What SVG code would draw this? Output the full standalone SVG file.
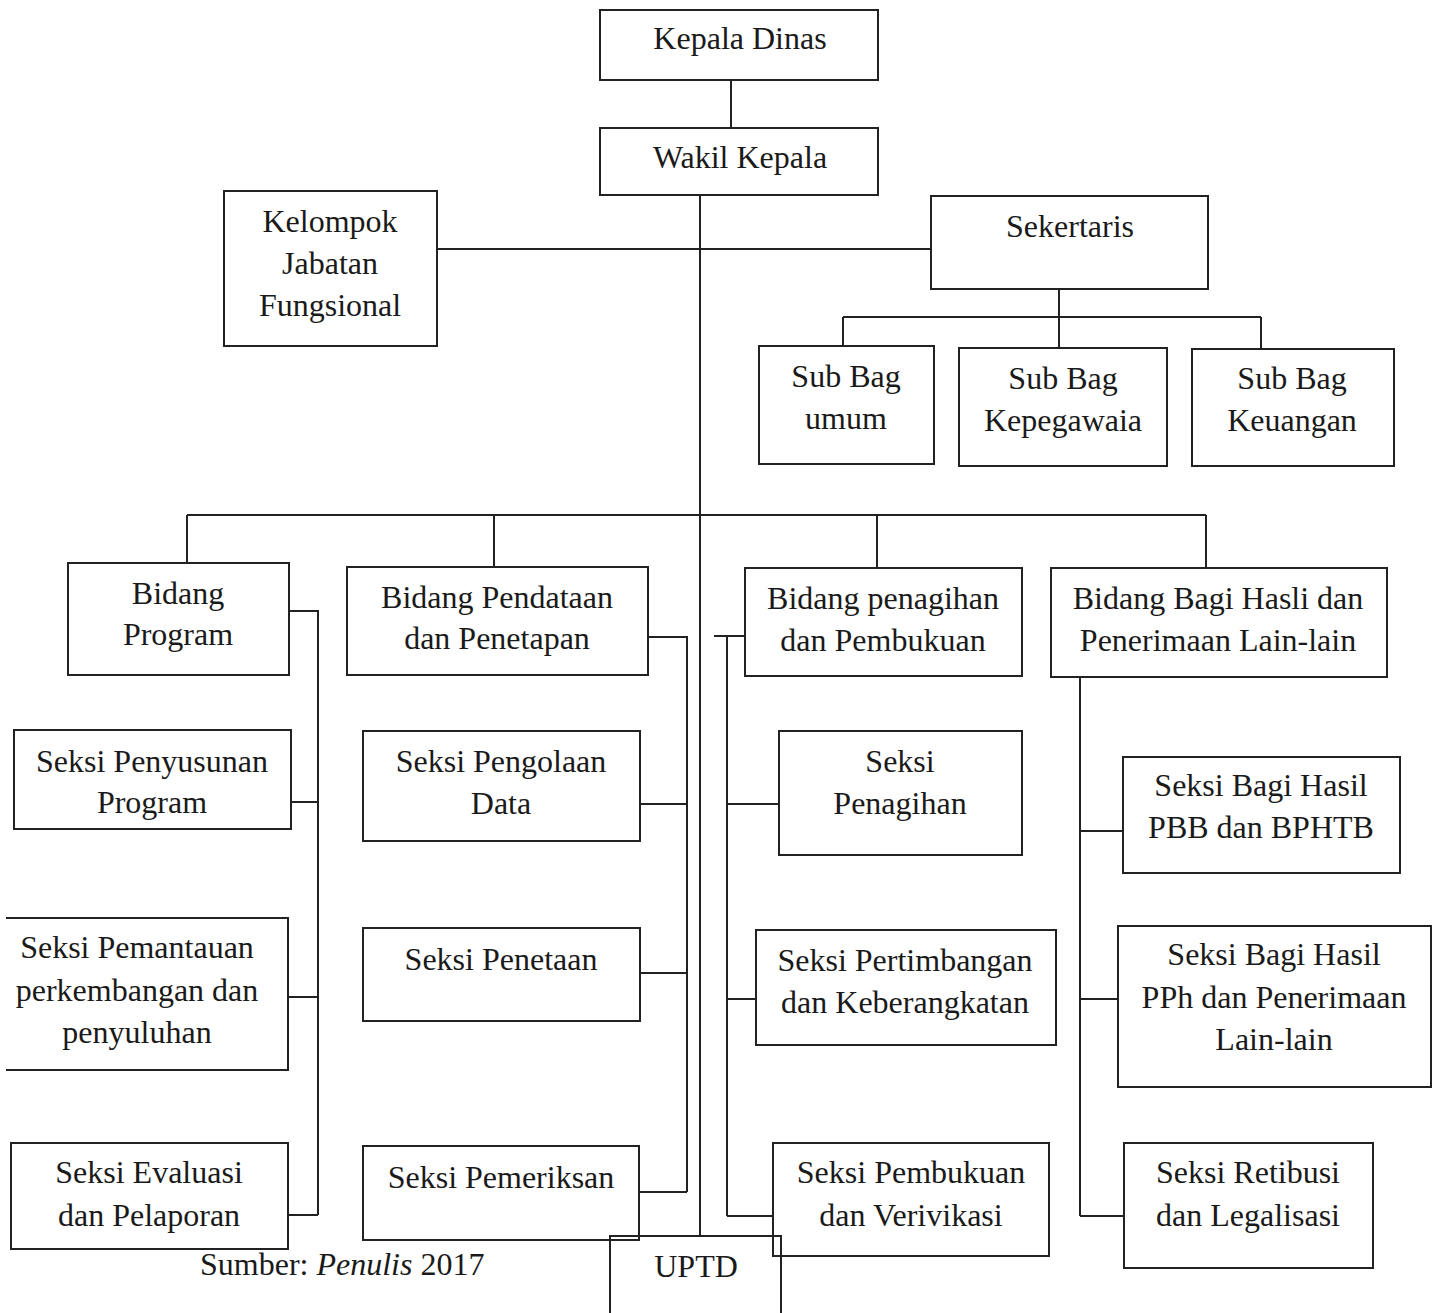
<svg xmlns="http://www.w3.org/2000/svg" width="1433" height="1313" viewBox="0 0 1433 1313">
<style>
.box{fill:none;stroke:#222;stroke-width:2}
.ln{fill:none;stroke:#222;stroke-width:2}
text{font-family:"Liberation Serif","Times New Roman",serif;font-size:32px;fill:#1a1a1a;text-anchor:middle}
</style>
<rect width="1433" height="1313" fill="#fff"/>
<g id="connectors">
<path class="ln" d="M731 80V128"/>
<path class="ln" d="M700 195V1236"/>
<path class="ln" d="M437 249H931"/>
<path class="ln" d="M1059 289V348M843 317H1261M843 317V346M1261 317V349"/>
<path class="ln" d="M187 515H1206M187 515V563M494 515V567M877 515V568M1206 515V568"/>
<path class="ln" d="M289 611H318V1215M291 802H318M288 997H318M288 1215H318"/>
<path class="ln" d="M648 637H687V1192M640 804H687M640 973H687M639 1192H687"/>
<path class="ln" d="M714 636H745M727 636V1216M727 804H779M727 999H756M727 1216H773"/>
<path class="ln" d="M1080 677V1216M1080 831H1123M1080 999H1118M1080 1216H1124"/>
</g>
<g id="kepala-dinas"><rect class="box" x="600" y="10" width="278" height="70"/><text x="740" y="49">Kepala Dinas</text></g>
<g id="wakil-kepala"><rect class="box" x="600" y="128" width="278" height="67"/><text x="740" y="168">Wakil Kepala</text></g>
<g id="kelompok"><rect class="box" x="224" y="191" width="213" height="155"/><text x="330" y="232">Kelompok</text><text x="330" y="274">Jabatan</text><text x="330" y="316">Fungsional</text></g>
<g id="sekertaris"><rect class="box" x="931" y="196" width="277" height="93"/><text x="1070" y="237">Sekertaris</text></g>
<g id="subbag-umum"><rect class="box" x="759" y="346" width="175" height="118"/><text x="846" y="387">Sub Bag</text><text x="846" y="429">umum</text></g>
<g id="subbag-kepegawaian"><rect class="box" x="959" y="348" width="208" height="118"/><text x="1063" y="389">Sub Bag</text><text x="1063" y="431">Kepegawaia</text></g>
<g id="subbag-keuangan"><rect class="box" x="1192" y="349" width="202" height="117"/><text x="1292" y="389">Sub Bag</text><text x="1292" y="431">Keuangan</text></g>
<g id="bidang-program"><rect class="box" x="68" y="563" width="221" height="112"/><text x="178" y="604">Bidang</text><text x="178" y="645">Program</text></g>
<g id="bidang-pendataan"><rect class="box" x="347" y="567" width="301" height="108"/><text x="497" y="608">Bidang Pendataan</text><text x="497" y="649">dan Penetapan</text></g>
<g id="bidang-penagihan"><rect class="box" x="745" y="568" width="277" height="108"/><text x="883" y="609">Bidang penagihan</text><text x="883" y="651">dan Pembukuan</text></g>
<g id="bidang-bagi-hasil"><rect class="box" x="1051" y="568" width="336" height="109"/><text x="1218" y="609">Bidang Bagi Hasli dan</text><text x="1218" y="651">Penerimaan Lain-lain</text></g>
<g id="seksi-penyusunan"><rect class="box" x="14" y="730" width="277" height="99"/><text x="152" y="772">Seksi Penyusunan</text><text x="152" y="813">Program</text></g>
<g id="seksi-pemantauan"><path class="box" d="M6 918H288V1070H6"/><text x="137" y="958">Seksi Pemantauan</text><text x="137" y="1001">perkembangan dan</text><text x="137" y="1043">penyuluhan</text></g>
<g id="seksi-evaluasi"><rect class="box" x="11" y="1143" width="277" height="106"/><text x="149" y="1183">Seksi Evaluasi</text><text x="149" y="1226">dan Pelaporan</text></g>
<g id="seksi-pengolaan"><rect class="box" x="363" y="731" width="277" height="110"/><text x="501" y="772">Seksi Pengolaan</text><text x="501" y="814">Data</text></g>
<g id="seksi-penetaan"><rect class="box" x="363" y="928" width="277" height="93"/><text x="501" y="970">Seksi Penetaan</text></g>
<g id="seksi-pemeriksan"><rect class="box" x="363" y="1146" width="276" height="94"/><text x="501" y="1188">Seksi Pemeriksan</text></g>
<g id="seksi-penagihan"><rect class="box" x="779" y="731" width="243" height="124"/><text x="900" y="772">Seksi</text><text x="900" y="814">Penagihan</text></g>
<g id="seksi-pertimbangan"><rect class="box" x="756" y="930" width="300" height="115"/><text x="905" y="971">Seksi Pertimbangan</text><text x="905" y="1013">dan Keberangkatan</text></g>
<g id="seksi-pembukuan"><rect class="box" x="773" y="1143" width="276" height="113"/><text x="911" y="1183">Seksi Pembukuan</text><text x="911" y="1226">dan Verivikasi</text></g>
<g id="seksi-bagi-hasil-pbb"><rect class="box" x="1123" y="757" width="277" height="116"/><text x="1261" y="796">Seksi Bagi Hasil</text><text x="1261" y="838">PBB dan BPHTB</text></g>
<g id="seksi-bagi-hasil-pph"><rect class="box" x="1118" y="926" width="313" height="161"/><text x="1274" y="965">Seksi Bagi Hasil</text><text x="1274" y="1008">PPh dan Penerimaan</text><text x="1274" y="1050">Lain-lain</text></g>
<g id="seksi-retibusi"><rect class="box" x="1124" y="1143" width="249" height="125"/><text x="1248" y="1183">Seksi Retibusi</text><text x="1248" y="1226">dan Legalisasi</text></g>
<g id="uptd"><path class="box" d="M610 1313V1236H781V1313"/><text x="696" y="1277">UPTD</text></g>
<text x="200" y="1275" style="text-anchor:start">Sumber: <tspan font-style="italic">Penulis</tspan> 2017</text>
</svg>
